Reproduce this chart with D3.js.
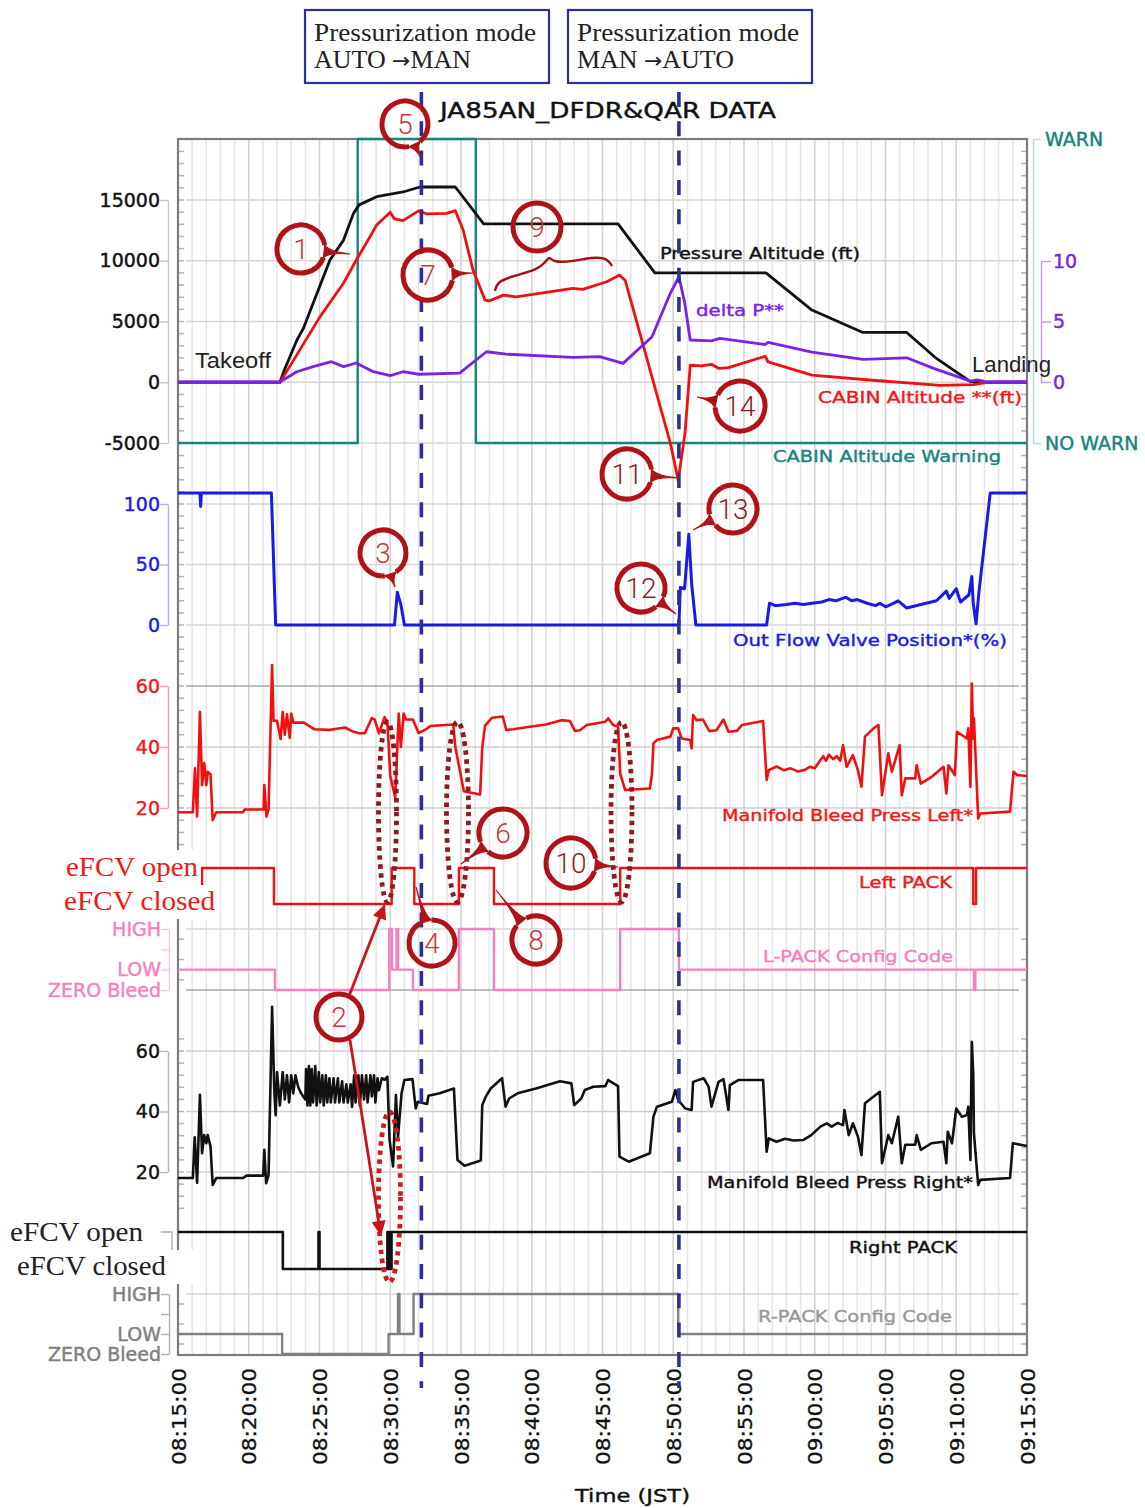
<!DOCTYPE html>
<html>
<head>
<meta charset="utf-8">
<script src="https://cdn.jsdelivr.net/npm/d3@7"></script>
<style>
html, body { margin: 0; padding: 0; background: #fff; }
svg { display: block; }
</style>
</head>
<body>
<div id="chart"></div>
<script>
// time is minutes after 08:15:00 JST, every series is [minute, value]
var timeTicks = [0, 5, 10, 15, 20, 25, 30, 35, 40, 45, 50, 55, 60];
var timeLabels = ["08:15:00", "08:20:00", "08:25:00", "08:30:00", "08:35:00", "08:40:00", "08:45:00",
	"08:50:00", "08:55:00", "09:00:00", "09:05:00", "09:10:00", "09:15:00"];
var modeChangeTimes = [17.2, 35.4];

var pressureAlt = [[0,0],[7.2,0],[7.56,1130],[8.4,3460],[8.86,4430],[9.55,6500],[10.74,10060],[11.7,11700],[12.4,13900],
	[12.8,14600],[14.04,15270],[15.9,15660],[17.1,16070],[19.6,16070],[21.6,13030],[31.1,13030],[33.7,9000],[41.55,9000],
	[44.8,5940],[48.4,4100],[51.5,4100],[53.6,1960],[56,50],[57,0],[60,0]];
var cabinAlt = [[0,-30],[7.2,-30],[10.03,5380],[11.68,8130],[12.6,10060],[13.57,11980],[14.04,12950],[15,14000],[15.3,13440],
	[15.9,13300],[17,14100],[17.6,13850],[19,13900],[19.6,14120],[20.15,12530],[20.85,9230],[21.7,6760],[22,6700],[23,7170],
	[23.9,7030],[27.9,7730],[28.6,7650],[30.3,8270],[31.2,8820],[31.6,8400],[34.8,-5030],[35.35,-8080],
	[35.83,-4200],[36.2,1400],[37,1340],[37.7,1480],[38.2,1150],[38.9,1210],[41.5,2140],[41.7,1680],[44.8,580],
	[49.1,165],[53.85,-250],[56.2,-190],[57.2,0],[60,0]];
var deltaP = [[0,0],[7.2,0],[8.4,0.85],[9.55,1.27],[10.85,1.68],[11.7,1.27],[12.6,1.57],[13.8,0.85],[15,0.52],
	[15.9,0.85],[17,0.64],[19.9,0.74],[21.8,2.5],[23.2,2.3],[27.9,2.04],[29.8,2.09],[31.45,1.54],[33.5,3.74],
	[34.8,7.35],[35.4,8.7],[35.8,6.6],[36.2,3.47],[37.7,3.4],[38.3,3.6],[41.5,3.1],[41.7,3.28],[44.8,2.46],
	[48.4,1.87],[51.5,2],[53.4,1.13],[56,0.07],[56.5,0.17],[57.2,0],[60,0.03]];
var cabinWarning = [[0,0],[12.7,1],[21.05,0],[60,0]];
var outflowValve = [[0,109],[1.55,109],[1.6,98],[1.65,109],[6.6,109],[6.9,0],[15.3,0],[15.5,27],[15.75,17],[16,0],
	[35.4,0],[35.5,31],[35.8,30],[36.1,75],[36.3,34],[36.6,0],[41.6,0],[41.8,18],[42.2,16],[43,17],[43.6,18],[44.2,17],
	[44.8,18],[45.5,19],[46,21],[46.5,20],[47.2,23],[47.6,20],[48,21],[48.7,18],[49.3,16],[49.6,18],[50,15],[50.4,17],
	[50.9,20],[51.5,14],[52.5,17],[53.6,20],[54.3,28],[54.5,22],[55,30],[55.3,19],[55.9,25],
	[56.1,40],[56.2,18],[56.4,1],[56.6,27],[57.4,109],[60,109]];
var bleedLeft = [[0,18.6],[1.05,18.6],[1.2,33],[1.35,17.2],[1.55,51.5],[1.7,27.5],[1.85,34.7],[2,27.5],[2.1,31.9],
	[2.3,31],[2.45,16],[2.7,18.6],[4.6,18.6],[4.7,19.5],[6.05,19.5],[6.1,27.5],[6.25,17.2],[6.4,19.5],[6.65,66.9],
	[6.75,48.6],[7,48.6],[7.25,42.6],[7.4,51.5],[7.55,44],[7.7,50.7],[7.9,43],[8,51],[8.15,48],[8.9,48],[9.65,45.8],
	[10.65,45.6],[11.8,46.4],[12.3,45.2],[12.8,44.5],[13.2,44.5],[13.7,49.5],[13.9,49],[14.2,44.5],[14.6,49.8],
	[14.8,48],[15,30.5],[15.35,23.4],[15.6,51],[15.75,40],[15.95,51],[16.1,49],[16.6,49],[17,44.6],[17.45,45.6],
	[17.85,46.9],[19.45,47.4],[19.6,40],[20.2,25.5],[21.35,24.4],[21.5,39.7],[21.7,47],[22.2,49.6],[22.95,50],
	[23.2,45.6],[23.7,45.8],[24.5,46.4],[26,47.4],[27.1,48.8],[27.7,48.5],[28.05,45.3],[28.4,45.5],[28.9,47.2],
	[30.2,48.3],[30.4,49.4],[30.75,47.2],[31.1,46.6],[31.25,31.3],[31.6,25.9],[33.35,26.4],[33.5,31.3],[33.6,41.2],
	[33.85,42.3],[34.8,43.4],[35,46.1],[35.35,46.1],[35.6,42.8],[36.2,42.3],[36.3,39.5],[36.4,50.5],[36.65,48.8],
	[37.1,49],[37.55,45.2],[38.05,45.5],[38.55,49],[38.9,45],[39.5,45.3],[39.85,47.2],[41.35,48.5],[41.6,29.2],
	[41.75,32.4],[42.3,33.6],[42.8,32.4],[43.3,33],[43.8,32],[44.3,32.5],[44.65,33.5],[45,33],[45.4,35.7],[45.6,37],
	[45.8,35.5],[46,37.5],[46.3,36],[46.55,37],[46.8,35.5],[47,40.6],[47.25,33.5],[47.7,37.3],[48.05,32.4],
	[48.3,27],[48.55,43.4],[49.15,46.1],[49.5,47.2],[49.75,24.2],[50.2,37.9],[50.45,31.9],[51,40.6],[51.15,24.2],
	[51.4,29.7],[52.1,29.7],[52.2,34],[52.5,28],[53.25,30.2],[54.1,33.5],[54.3,24.8],[54.45,34],[54.9,30.8],[55.05,45],
	[55.75,42.8],[55.85,46.1],[56,27],[56.1,60.8],[56.2,42.8],[56.25,49.4],[56.55,16.6],[56.7,18.2],[58.8,18.8],
	[59.05,31.9],[59.3,30.8],[60,30.5]];
var bleedRight = [[0,18],[1.05,18],[1.18,31.5],[1.35,16.5],[1.55,45.5],[1.7,26.2],[1.85,32.2],[2,29.5],[2.1,32.2],
	[2.3,28.4],[2.45,15.7],[2.7,18],[4.6,18],[4.85,18.8],[6.02,18.8],[6.1,27.3],[6.23,16.3],[6.4,19],[6.65,74.6],
	[6.8,47.6],[6.9,38.8],[7,53],[7.2,42],[7.4,53],[7.55,44],[7.7,52],[7.85,43],[8,52],[8.15,46],[8.3,52],[8.5,48],
	[8.7,46],[9,44],[9.05,54],[9.15,42],[9.25,55],[9.35,42],[9.45,54],[9.55,43],[9.7,55],[9.8,42],[9.95,53],[10.05,43],
	[10.2,52],[10.3,42],[10.45,52],[10.55,43],[10.7,51],[10.8,43],[11,51],[11.1,43],[11.3,51],[11.4,43],[11.6,50],
	[11.7,43],[11.9,49],[12,43],[12.2,49],[12.3,41.5],[12.45,52],[12.55,43],[12.75,52],[12.85,42],[13,52],[13.15,44],
	[13.3,52],[13.4,43],[13.6,52],[13.7,45],[13.85,52],[13.95,43],[14.1,51],[14.2,47],[14.4,51],[14.6,50.5],[14.8,51.5],
	[14.95,30.6],[15.2,21.8],[15.4,45.4],[15.55,31.7],[15.8,46],[16,50.4],[16.57,50.7],[16.8,41],[16.95,43.2],[17.6,42.5],
	[17.7,45.2],[18.5,46],[19.5,47.6],[19.75,24],[20.25,22.1],[21.4,23.8],[21.5,42.1],[21.75,44.9],[22.1,47.6],[22.9,51],
	[23.15,41.6],[23.4,44.3],[24,46],[25.3,47.6],[27,50],[27.8,49.3],[28,42.1],[28.5,44.3],[28.75,47.1],[29.35,48.2],
	[30.2,48.4],[30.4,50.4],[31.1,48.4],[31.2,25.1],[31.85,23.4],[33.35,26.2],[33.6,38.3],[33.85,41.6],[34.9,43.2],
	[35.15,47.1],[35.35,43.8],[35.85,41],[36.3,40.5],[36.4,49.8],[37.15,51],[37.5,48.2],[37.7,41.6],[38.2,49.8],[38.55,50.7],
	[38.9,40.5],[39,48.7],[39.6,50.4],[41.35,50.4],[41.6,26.7],[41.75,31.1],[42.3,30],[42.9,31],[43.5,30.4],[44.2,30.6],
	[44.7,32],[45.4,35],[45.85,36.1],[46.2,35],[46.6,36.2],[47,35.5],
	[47.1,40.5],[47.4,32.2],[47.7,36.1],[48.05,31.7],[48.3,25.6],[48.55,42.7],[49.6,46.5],[49.75,22.9],[50.2,32.2],
	[50.45,29.5],[50.9,38.3],[51.15,22.9],[51.4,29],[52.1,29],[52.2,32.2],[52.5,27.3],[53.25,29.5],[54.1,30],[54.3,22.9],
	[54.4,33.3],[54.7,29.5],[55,41],[55.4,38.3],[55.75,38.8],[55.85,41.6],[56,24],[56.1,63],[56.2,52.6],[56.25,32.8],
	[56.55,15.7],[56.7,17.4],[58.8,18],[59,29.5],[59.9,28.7],[60,28.7]];
var leftPack = [[0,0],[1.7,1],[6.78,0],[15.1,1],[16.7,0],[19.85,1],[22.33,0],[31.25,1],[56.2,0],[56.4,1],[60,1]];
var rightPack = [[0,1],[7.41,0],[9.93,1],[10,0],[14.8,1],[14.88,0],[14.95,1],[15.02,0],[15.09,1],[60,1]];
var leftConfig = [[0,1],[6.85,0],[14.93,3],[15.12,1],[15.45,3],[15.55,1],[16.6,0],[19.85,3],[22.33,0],[31.25,3],[35.4,1],
	[56.25,0],[56.35,1],[60,1]];
var rightConfig = [[0,1],[7.36,0],[14.88,1],[15.55,3],[15.65,1],[16.65,3],[35.35,1],[60,1]];

var altTicks = [-5000, 0, 5000, 10000, 15000];
var valveTicks = [0, 50, 100];
var bleedTicks = [20, 40, 60];
var deltaPTicks = [0, 5, 10];
var configNames = ["ZERO Bleed", "LOW", "", "HIGH"];
var warnNames = ["NO WARN", "WARN"];

var width = 1145, height = 1508;
var svg = d3.select("#chart").append("svg").attr("width", width).attr("height", height);

var x = d3.scaleLinear().domain([0, 60]).range([178, 1027]);
var yAlt = d3.scaleLinear().domain([-5000, 15000]).range([443, 200]);
var yDelta = d3.scaleLinear().domain([0, 10]).range([382, 261]);
var yWarn = d3.scaleLinear().domain([0, 1]).range([443, 139]);
var yValve = d3.scaleLinear().domain([0, 100]).range([625, 504]);
var yLeft = d3.scaleLinear().domain([20, 60]).range([808, 686]);
var yLeftPack = d3.scaleLinear().domain([0, 1]).range([904, 868]);
var yLeftCfg = d3.scaleLinear().domain([0, 3]).range([990, 929]);
var yRight = d3.scaleLinear().domain([20, 60]).range([1172, 1051]);
var yRightPack = d3.scaleLinear().domain([0, 1]).range([1269, 1232]);
var yRightCfg = d3.scaleLinear().domain([0, 3]).range([1354, 1294]);

var sans = "'DejaVu Sans', sans-serif";
var teal = "#17857c", purple = "#7a22e6", blue = "#1a1ae6", red = "#f01010", pink = "#f77fc0", gray = "#808080";

//------------------------------------------------
// grid
var grid = svg.append("g");
grid.selectAll(".vminor").data(d3.range(1, 60)).enter().append("line")
	.attr("x1", function (d) { return x(d); })
	.attr("x2", function (d) { return x(d); })
	.attr("y1", 139).attr("y2", 1355)
	.attr("stroke", function (d) { return d % 5 == 0 ? "#d2d2d2" : "#e6e6e6"; })
	.attr("stroke-width", 1.6);

function hgrid(scale, values, color) {
	grid.selectAll(null).data(values).enter().append("line")
		.attr("x1", 186).attr("x2", 1019)
		.attr("y1", function (d) { return scale(d); })
		.attr("y2", function (d) { return scale(d); })
		.attr("stroke", color).attr("stroke-width", 1.6);
}
hgrid(yAlt, altTicks, "#d6d6d6");
hgrid(yValve, valveTicks, "#d6d6d6");
hgrid(yLeft, [60], "#a8a8a8");
hgrid(yLeft, [20, 40], "#cfcfcf");
hgrid(yLeftCfg, [3], "#d6d6d6");
hgrid(yLeftCfg, [0], "#a8a8a8");
hgrid(yRight, bleedTicks, "#cfcfcf");
hgrid(yRightCfg, [3], "#d6d6d6");

// little ticks on the inside of the frame, one every 1000 ft worth of pixels
function frameTicks(scale, values) {
	[[178, 184], [1027, 1021]].forEach(function (side) {
		grid.selectAll(null).data(values).enter().append("line")
			.attr("x1", side[0]).attr("x2", side[1])
			.attr("y1", function (d) { return scale(d); })
			.attr("y2", function (d) { return scale(d); })
			.attr("stroke", "#b4b4b4").attr("stroke-width", 1.5);
	});
}
frameTicks(yAlt, d3.range(-5000, 20000, 1000));
frameTicks(yValve, d3.range(-30, 150, 10));
frameTicks(yLeft, d3.range(8, 68, 4));
frameTicks(yRight, d3.range(8, 68, 4));
frameTicks(yRightCfg, [0.5, 1.5, 2.5]);
frameTicks(yLeftCfg, [0.5, 1.5, 2.5]);

grid.append("rect").attr("x", 178).attr("y", 139).attr("width", 849).attr("height", 1216)
	.attr("fill", "none").attr("stroke", "#7c7c7c").attr("stroke-width", 2.2);

//------------------------------------------------
// axes
function sideAxis(axis, xpos, color, lineColor) {
	var g = svg.append("g").attr("transform", "translate(" + xpos + ",0)").call(axis);
	g.selectAll("path,line").attr("stroke", lineColor).attr("stroke-width", 1.4);
	g.selectAll("text").attr("fill", color).attr("stroke", color).attr("stroke-width", 0.45)
		.attr("font-family", sans).attr("font-size", 19);
	return g;
}
function leftAxis(scale, ticks, fmt) {
	return d3.axisLeft(scale).tickValues(ticks).tickSize(8).tickSizeOuter(0).tickPadding(0).tickFormat(fmt || String);
}
function configFmt(d) { return configNames[d]; }

sideAxis(leftAxis(yAlt, altTicks), 168, "#111", "#c4c4c4");
sideAxis(leftAxis(yValve, valveTicks), 168, "#1a1ae6", "#b0b0f5");
sideAxis(leftAxis(yLeft, bleedTicks), 168, "#f01818", "#f6a0a0");
sideAxis(leftAxis(yLeftCfg, [0, 1, 2, 3], configFmt), 169, pink, "#f8c0de");
sideAxis(leftAxis(yRight, bleedTicks), 168, "#111", "#b8b8b8");
sideAxis(leftAxis(yRightCfg, [0, 1, 2, 3], configFmt), 169, gray, "#b0b0b0");

var warnAxis = d3.axisRight(yWarn).tickValues([0, 1]).tickSize(8).tickSizeOuter(0).tickPadding(4)
	.tickFormat(function (d) { return warnNames[d]; });
sideAxis(warnAxis, 1033, teal, "#b5ddd8");
var deltaAxis = d3.axisRight(yDelta).tickValues(deltaPTicks).tickSize(10).tickSizeOuter(0).tickPadding(2);
sideAxis(deltaAxis, 1041, purple, "#c49af5");

var timeAxis = d3.axisBottom(x).tickValues(timeTicks).tickSize(0).tickSizeOuter(0)
	.tickFormat(function (d, i) { return timeLabels[i]; });
var timeG = svg.append("g").attr("transform", "translate(0,1355)").call(timeAxis);
timeG.select(".domain").remove();
timeG.selectAll("text")
	.attr("transform", "rotate(-90)")
	.attr("x", -13).attr("y", 0).attr("dy", "0.36em")
	.attr("text-anchor", "end")
	.attr("font-family", sans).attr("font-size", 20).attr("fill", "#111")
	.attr("stroke", "#111").attr("stroke-width", 0.3)
	.attr("textLength", 97).attr("lengthAdjust", "spacingAndGlyphs");

//------------------------------------------------
// traces
function trace(data, yScale, color, w, curve) {
	var line = d3.line()
		.x(function (d) { return x(d[0]); })
		.y(function (d) { return yScale(d[1]); });
	if (curve) line.curve(curve);
	svg.append("path").datum(data).attr("d", line)
		.attr("fill", "none").attr("stroke", color).attr("stroke-width", w)
		.attr("stroke-linejoin", "round");
}
trace(cabinWarning, yWarn, teal, 2.4, d3.curveStepAfter);
trace(pressureAlt, yAlt, "#111", 2.8);
trace(cabinAlt, yAlt, red, 2.8);
trace(deltaP, yDelta, purple, 2.8);
trace(outflowValve, yValve, blue, 3);
trace(bleedLeft, yLeft, red, 2.6);
trace(leftPack, yLeftPack, red, 2.4, d3.curveStepAfter);
trace(leftConfig, yLeftCfg, pink, 2.4, d3.curveStepAfter);
trace(bleedRight, yRight, "#111", 2.6);
trace(rightPack, yRightPack, "#111", 2.6, d3.curveStepAfter);
trace(rightConfig, yRightCfg, gray, 2.4, d3.curveStepAfter);

//------------------------------------------------
// labels on the plot
function label(px, py, text, size, color, w, font) {
	return svg.append("text").attr("x", px).attr("y", py).text(text)
		.attr("font-family", font || sans).attr("font-size", size).attr("fill", color)
		.attr("stroke", color).attr("stroke-width", font ? 0 : 0.4)
		.attr("textLength", w).attr("lengthAdjust", "spacingAndGlyphs");
}
label(440, 118, "JA85AN_DFDR&QAR DATA", 21, "#111", 336);
label(660, 259, "Pressure Altitude (ft)", 16, "#111", 200);
label(696, 316, "delta P**", 16, purple, 88);
label(818, 403, "CABIN Altitude **(ft)", 16, "#f01818", 204);
label(773, 462, "CABIN Altitude Warning", 16, teal, 228);
label(733, 646, "Out Flow Valve Position*(%)", 16, blue, 274);
label(722, 821, "Manifold Bleed Press Left*", 16, "#f01818", 251);
label(859, 888, "Left PACK", 16, "#f01818", 93);
label(763, 962, "L-PACK Config Code", 16, pink, 190);
label(707, 1188, "Manifold Bleed Press Right*", 16, "#111", 266);
label(849, 1253, "Right PACK", 16, "#111", 108);
label(758, 1322, "R-PACK Config Code", 16, "#999", 194);
label(575, 1502, "Time (JST)", 18, "#111", 115);
label(195, 368, "Takeoff", 22, "#222", 76, "'Liberation Sans', sans-serif");
label(972, 372, "Landing", 22, "#222", 79, "'Liberation Sans', sans-serif");

// mode change boxes and dashed lines
var navy = "#2a2f9a";
[[305, "AUTO ", "MAN"], [568, "MAN ", "AUTO"]].forEach(function (b) {
	svg.append("rect").attr("x", b[0]).attr("y", 10).attr("width", 244).attr("height", 73)
		.attr("fill", "#fff").attr("stroke", navy).attr("stroke-width", 2.2);
	label(b[0] + 9, 41, "Pressurization mode", 25, "#222", 222, "'Liberation Serif', serif");
	var mode = label(b[0] + 9, 68, "", 25, "#222", 157, "'Liberation Serif', serif");
	mode.append("tspan").text(b[1]);
	mode.append("tspan").attr("font-family", sans).attr("font-size", 21).text("\u2192");
	mode.append("tspan").text(b[2]);
});
svg.selectAll(".mode").data(modeChangeTimes).enter().append("line")
	.attr("x1", function (d) { return x(d); })
	.attr("x2", function (d) { return x(d); })
	.attr("y1", 92).attr("y2", 1388)
	.attr("stroke", navy).attr("stroke-width", 3.6).attr("stroke-dasharray", "15 14.3");

//------------------------------------------------
// white patches and eFCV labels
var serif = "'Liberation Serif', serif";
svg.append("rect").attr("x", 55).attr("y", 850).attr("width", 146).attr("height", 35).attr("fill", "#fff");
svg.append("rect").attr("x", 55).attr("y", 885).attr("width", 160).attr("height", 34).attr("fill", "#fff");
svg.append("rect").attr("x", 0).attr("y", 1250).attr("width", 193).attr("height", 34).attr("fill", "#fff");
label(66, 876, "eFCV open", 27, "#f01818", 132, serif);
label(64, 910, "eFCV closed", 27, "#f01818", 151, serif);
label(10, 1241, "eFCV open", 27, "#222", 133, serif);
label(17, 1275, "eFCV closed", 27, "#222", 149, serif);
svg.append("path").attr("d", "M161,1232H172V1250").attr("fill", "none").attr("stroke", "#b0b0b0").attr("stroke-width", 1.4);

//------------------------------------------------
// dotted ellipses
var darkRed = "#a50f14";
[[387.5, 812, 9, 90, "#8e1a1e"], [457.5, 812, 11, 90, "#8e1a1e"], [621.5, 812, 10.5, 90, "#8e1a1e"], [389.5, 1197, 11, 85, "#d01a20"]].forEach(function (e) {
	svg.append("ellipse").attr("cx", e[0]).attr("cy", e[1]).attr("rx", e[2]).attr("ry", e[3])
		.attr("fill", "none").attr("stroke", e[4]).attr("stroke-width", 4.8)
		.attr("stroke-dasharray", "4.5 4.5");
});

// brace under the 9 callout
svg.append("path")
	.attr("d", d3.line().curve(d3.curveBasis)([[495,291],[497,282],[513,276],[537,270],[546,262],[549,256],[553,262],[570,262],[593,257],[607,258],[612,266]]))
	.attr("fill", "none").attr("stroke", darkRed).attr("stroke-width", 2.4);

// the "2" arrows
function arrow(x1, y1, x2, y2) {
	var a = Math.atan2(y2 - y1, x2 - x1), s = 15, h = 7;
	svg.append("line").attr("x1", x1).attr("y1", y1).attr("x2", x2 - s * 0.8 * Math.cos(a)).attr("y2", y2 - s * 0.8 * Math.sin(a))
		.attr("stroke", "#c8141a").attr("stroke-width", 2.8);
	var bx = x2 - s * Math.cos(a), by = y2 - s * Math.sin(a);
	svg.append("path").attr("fill", "#c8141a")
		.attr("d", "M" + x2 + "," + y2 + "L" + (bx - h * Math.sin(a)) + "," + (by + h * Math.cos(a)) +
			"L" + (bx + h * Math.sin(a)) + "," + (by - h * Math.cos(a)) + "Z");
}
arrow(349, 996, 385, 904);
arrow(350, 1040, 381, 1236);

// numbered callouts: number, circle centre, radius, tail tip
var callouts = [
	["1", 301, 249, 24, 350, 254], ["2", 339, 1017, 23, null, null], ["3", 383, 553, 23, 395, 587],
	["4", 432, 943, 23, 416, 887], ["5", 405, 124, 23, 421, 158], ["6", 503, 833, 24, 461, 864],
	["7", 428, 275, 25, 473, 273], ["8", 536, 940, 24, 496, 890], ["9", 537, 227, 24, null, null],
	["10", 571, 863, 25, 618, 867], ["11", 627, 474, 25, 680, 478], ["12", 641, 588, 24, 676, 614],
	["13", 733, 509, 24, 693, 530], ["14", 740, 406, 25, 697, 397]
];
callouts.forEach(function (c) {
	var stroke = "#b01218", cx = c[1], cy = c[2], r = c[3];
	if (c[4] === null) {
		svg.append("circle").attr("cx", cx).attr("cy", cy).attr("r", r)
			.attr("fill", "none").attr("stroke", stroke).attr("stroke-width", 5);
	} else {
		var a = Math.atan2(c[5] - cy, c[4] - cx), gap = 0.26;
		var p1 = [cx + r * Math.cos(a - gap), cy + r * Math.sin(a - gap)];
		var p2 = [cx + r * Math.cos(a + gap), cy + r * Math.sin(a + gap)];
		var mid = [cx + (r + 5) * Math.cos(a), cy + (r + 5) * Math.sin(a)];
		svg.append("path")
			.attr("d", "M" + p2 + "A" + r + "," + r + " 0 1 1 " + p1)
			.attr("fill", "none").attr("stroke", stroke).attr("stroke-width", 5);
		svg.append("path")
			.attr("d", "M" + p1 + "Q" + mid + " " + c[4] + "," + c[5] + "Q" + mid + " " + p2 + "Z")
			.attr("fill", stroke).attr("stroke", stroke).attr("stroke-width", 1.2);
	}
	svg.append("text").attr("x", cx).attr("y", cy + 10).text(c[0])
		.attr("text-anchor", "middle").attr("font-family", "Roboto, 'Liberation Sans', sans-serif")
		.attr("font-weight", 300).attr("font-size", 28).attr("fill", c[0].length > 1 ? "#8e1a1e" : "#c8353a");
});
</script>
</body>
</html>
